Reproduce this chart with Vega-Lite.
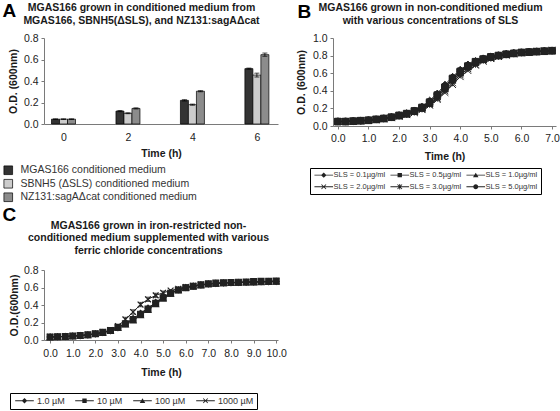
{
"$schema": "https://vega.github.io/schema/vega-lite/v6.json",
"padding": {"left": 2, "top": 1, "right": 0, "bottom": 0},
"autosize": {"type": "pad"},
"config": {
  "font": "Liberation Sans",
  "view": {"stroke": null},
  "axis": {"grid": false, "domainColor": "#7a7a7a", "tickColor": "#7a7a7a", "labelColor": "#222222", "labelFontSize": 10.5, "titleFontSize": 10.5, "titleFontWeight": "bold", "titleColor": "#1a1a1a", "tickSize": 3, "labelPadding": 3, "labelFont": "Liberation Sans", "titleFont": "Liberation Sans"},
  "legend": {"labelFont": "Liberation Sans", "labelFontSize": 9.5, "labelColor": "#333333", "labelLimit": 400}
},
"columns": 2,
"bounds": "flush",
"align": "each",
"spacing": {"row": 144, "column": 55},
"concat": [
{
  "width": 234, "height": 86,
  "data": {"values": [
    {"t":0,"m":"MGAS166 conditioned medium","v":0.045,"lo":0.042,"hi":0.048},
    {"t":0,"m":"SBNH5 (ΔSLS) conditioned medium","v":0.045,"lo":0.042,"hi":0.048},
    {"t":0,"m":"NZ131:sagAΔcat conditioned medium","v":0.045,"lo":0.042,"hi":0.048},
    {"t":2,"m":"MGAS166 conditioned medium","v":0.12,"lo":0.115,"hi":0.125},
    {"t":2,"m":"SBNH5 (ΔSLS) conditioned medium","v":0.1,"lo":0.096,"hi":0.104},
    {"t":2,"m":"NZ131:sagAΔcat conditioned medium","v":0.145,"lo":0.14,"hi":0.15},
    {"t":4,"m":"MGAS166 conditioned medium","v":0.22,"lo":0.214,"hi":0.226},
    {"t":4,"m":"SBNH5 (ΔSLS) conditioned medium","v":0.18,"lo":0.175,"hi":0.185},
    {"t":4,"m":"NZ131:sagAΔcat conditioned medium","v":0.305,"lo":0.3,"hi":0.31},
    {"t":6,"m":"MGAS166 conditioned medium","v":0.515,"lo":0.51,"hi":0.52},
    {"t":6,"m":"SBNH5 (ΔSLS) conditioned medium","v":0.455,"lo":0.437,"hi":0.473},
    {"t":6,"m":"NZ131:sagAΔcat conditioned medium","v":0.645,"lo":0.63,"hi":0.66}
  ]},
  "encoding": {
    "x": {"field":"t","type":"quantitative","scale":{"domain":[-0.45,6.5]},"axis":null},
    "y": {"field":"v","type":"quantitative","scale":{"domain":[0,0.8]},"stack":null,"title":"O.D. (600nm)","axis":{"values":[0,0.2,0.4,0.6,0.8],"format":".1f","titlePadding":5}}
  },
  "layer": [
    {"transform":[{"filter":"datum.m === 'MGAS166 conditioned medium'"}],
     "mark":{"type":"bar","orient":"vertical","width":8,"xOffset":-8,"stroke":"#000","strokeWidth":0.7},
     "encoding":{
       "x":{"field":"t","type":"quantitative","scale":{"domain":[-0.45,6.5]},"axis":{"values":[0,2,4,6],"format":"d","ticks":false,"labelPadding":8,"title":"Time (h)","titlePadding":6}},
       "color":{"field":"m","type":"nominal","scale":{"domain":["MGAS166 conditioned medium","SBNH5 (ΔSLS) conditioned medium","NZ131:sagAΔcat conditioned medium"],"range":["#333333","#cccccc","#8c8c8c"]},"legend":{"orient":"none","legendX":-41,"legendY":127,"title":null,"symbolType":"square","symbolSize":75,"symbolStrokeColor":"#000","symbolStrokeWidth":0.7,"labelFontSize":10.5,"labelColor":"#333333","rowPadding":1.5,"labelOffset":7}}}},
    {"transform":[{"filter":"datum.m === 'SBNH5 (ΔSLS) conditioned medium'"}],
     "mark":{"type":"bar","orient":"vertical","width":8,"xOffset":0,"stroke":"#000","strokeWidth":0.7},
     "encoding":{
       "x":{"field":"t","type":"quantitative","scale":{"domain":[-0.45,6.5]},"axis":{"orient":"top","domain":false,"ticks":false,"labels":false,"title":["MGAS166 grown in conditioned medium from","MGAS166, SBNH5(ΔSLS), and NZ131:sagAΔcat"],"titleX":97,"titleY":-36,"titleAlign":"center","titleBaseline":"top","titleAngle":0,"titleLineHeight":13.5}},
       "color":{"field":"m","type":"nominal","scale":{"domain":["MGAS166 conditioned medium","SBNH5 (ΔSLS) conditioned medium","NZ131:sagAΔcat conditioned medium"],"range":["#333333","#cccccc","#8c8c8c"]},"legend":{"orient":"none","legendX":-41,"legendY":127,"title":null,"symbolType":"square","symbolSize":75,"symbolStrokeColor":"#000","symbolStrokeWidth":0.7,"labelFontSize":10.5,"labelColor":"#333333","rowPadding":1.5,"labelOffset":7}}}},
    {"transform":[{"filter":"datum.m === 'NZ131:sagAΔcat conditioned medium'"}],
     "mark":{"type":"bar","orient":"vertical","width":8,"xOffset":8,"stroke":"#000","strokeWidth":0.7},
     "encoding":{
       "x":{"field":"t","type":"quantitative","scale":{"domain":[-0.45,6.5]},"axis":{"orient":"top","domain":false,"ticks":false,"labels":false,"title":"A","titleX":-42,"titleY":-37,"titleAlign":"left","titleBaseline":"top","titleAngle":0,"titleFontSize":19,"titleColor":"#000000"}},
       "color":{"field":"m","type":"nominal","scale":{"domain":["MGAS166 conditioned medium","SBNH5 (ΔSLS) conditioned medium","NZ131:sagAΔcat conditioned medium"],"range":["#333333","#cccccc","#8c8c8c"]},"legend":{"orient":"none","legendX":-41,"legendY":127,"title":null,"symbolType":"square","symbolSize":75,"symbolStrokeColor":"#000","symbolStrokeWidth":0.7,"labelFontSize":10.5,"labelColor":"#333333","rowPadding":1.5,"labelOffset":7}}}},
    {"transform":[{"filter":"datum.m === 'MGAS166 conditioned medium'"}],
     "mark":{"type":"rule","xOffset":-8,"color":"#000","strokeWidth":0.8},
     "encoding":{"y":{"field":"lo","type":"quantitative","scale":{"domain":[0,0.8]},"title":"O.D. (600nm)","axis":{"values":[0,0.2,0.4,0.6,0.8],"format":".1f","titlePadding":5}},"y2":{"field":"hi"}}},
    {"transform":[{"filter":"datum.m === 'SBNH5 (ΔSLS) conditioned medium'"}],
     "mark":{"type":"rule","xOffset":0,"color":"#000","strokeWidth":0.8},
     "encoding":{"y":{"field":"lo","type":"quantitative","scale":{"domain":[0,0.8]},"title":"O.D. (600nm)","axis":{"values":[0,0.2,0.4,0.6,0.8],"format":".1f","titlePadding":5}},"y2":{"field":"hi"}}},
    {"transform":[{"filter":"datum.m === 'NZ131:sagAΔcat conditioned medium'"}],
     "mark":{"type":"rule","xOffset":8,"color":"#000","strokeWidth":0.8},
     "encoding":{"y":{"field":"lo","type":"quantitative","scale":{"domain":[0,0.8]},"title":"O.D. (600nm)","axis":{"values":[0,0.2,0.4,0.6,0.8],"format":".1f","titlePadding":5}},"y2":{"field":"hi"}}},
    {"transform":[{"filter":"datum.m === 'MGAS166 conditioned medium'"}],
     "mark":{"type":"tick","orient":"horizontal","xOffset":-8,"size":5,"thickness":1,"color":"#000"},
     "encoding":{"y":{"field":"hi","type":"quantitative","scale":{"domain":[0,0.8]},"title":"O.D. (600nm)","axis":{"values":[0,0.2,0.4,0.6,0.8],"format":".1f","titlePadding":5}}}},
    {"transform":[{"filter":"datum.m === 'MGAS166 conditioned medium'"}],
     "mark":{"type":"tick","orient":"horizontal","xOffset":-8,"size":5,"thickness":1,"color":"#000"},
     "encoding":{"y":{"field":"lo","type":"quantitative","scale":{"domain":[0,0.8]},"title":"O.D. (600nm)","axis":{"values":[0,0.2,0.4,0.6,0.8],"format":".1f","titlePadding":5}}}},
    {"transform":[{"filter":"datum.m === 'SBNH5 (ΔSLS) conditioned medium'"}],
     "mark":{"type":"tick","orient":"horizontal","xOffset":0,"size":5,"thickness":1,"color":"#000"},
     "encoding":{"y":{"field":"hi","type":"quantitative","scale":{"domain":[0,0.8]},"title":"O.D. (600nm)","axis":{"values":[0,0.2,0.4,0.6,0.8],"format":".1f","titlePadding":5}}}},
    {"transform":[{"filter":"datum.m === 'SBNH5 (ΔSLS) conditioned medium'"}],
     "mark":{"type":"tick","orient":"horizontal","xOffset":0,"size":5,"thickness":1,"color":"#000"},
     "encoding":{"y":{"field":"lo","type":"quantitative","scale":{"domain":[0,0.8]},"title":"O.D. (600nm)","axis":{"values":[0,0.2,0.4,0.6,0.8],"format":".1f","titlePadding":5}}}},
    {"transform":[{"filter":"datum.m === 'NZ131:sagAΔcat conditioned medium'"}],
     "mark":{"type":"tick","orient":"horizontal","xOffset":8,"size":5,"thickness":1,"color":"#000"},
     "encoding":{"y":{"field":"hi","type":"quantitative","scale":{"domain":[0,0.8]},"title":"O.D. (600nm)","axis":{"values":[0,0.2,0.4,0.6,0.8],"format":".1f","titlePadding":5}}}},
    {"transform":[{"filter":"datum.m === 'NZ131:sagAΔcat conditioned medium'"}],
     "mark":{"type":"tick","orient":"horizontal","xOffset":8,"size":5,"thickness":1,"color":"#000"},
     "encoding":{"y":{"field":"lo","type":"quantitative","scale":{"domain":[0,0.8]},"title":"O.D. (600nm)","axis":{"values":[0,0.2,0.4,0.6,0.8],"format":".1f","titlePadding":5}}}}
  ],
  "resolve": {"axis": {"x": "independent"}}
},
{
  "width": 223, "height": 88,
  "data": {"values": [
{"t":0,"s":"0.1","v":0.05},{"t":0.25,"s":"0.1","v":0.05},{"t":0.5,"s":"0.1","v":0.055},{"t":0.75,"s":"0.1","v":0.06},{"t":1,"s":"0.1","v":0.065},{"t":1.25,"s":"0.1","v":0.075},{"t":1.5,"s":"0.1","v":0.087},{"t":1.75,"s":"0.1","v":0.103},{"t":2,"s":"0.1","v":0.124},{"t":2.25,"s":"0.1","v":0.146},{"t":2.5,"s":"0.1","v":0.178},{"t":2.75,"s":"0.1","v":0.22},{"t":3,"s":"0.1","v":0.29},{"t":3.25,"s":"0.1","v":0.37},{"t":3.5,"s":"0.1","v":0.47},{"t":3.75,"s":"0.1","v":0.56},{"t":4,"s":"0.1","v":0.64},{"t":4.25,"s":"0.1","v":0.7},{"t":4.5,"s":"0.1","v":0.74},{"t":4.75,"s":"0.1","v":0.77},{"t":5,"s":"0.1","v":0.79},{"t":5.25,"s":"0.1","v":0.805},{"t":5.5,"s":"0.1","v":0.82},{"t":5.75,"s":"0.1","v":0.83},{"t":6,"s":"0.1","v":0.838},{"t":6.25,"s":"0.1","v":0.843},{"t":6.5,"s":"0.1","v":0.848},{"t":6.75,"s":"0.1","v":0.852},{"t":7,"s":"0.1","v":0.856},
{"t":0,"s":"0.5","v":0.05},{"t":0.25,"s":"0.5","v":0.05},{"t":0.5,"s":"0.5","v":0.055},{"t":0.75,"s":"0.5","v":0.06},{"t":1,"s":"0.5","v":0.065},{"t":1.25,"s":"0.5","v":0.075},{"t":1.5,"s":"0.5","v":0.085},{"t":1.75,"s":"0.5","v":0.1},{"t":2,"s":"0.5","v":0.12},{"t":2.25,"s":"0.5","v":0.14},{"t":2.5,"s":"0.5","v":0.17},{"t":2.75,"s":"0.5","v":0.21},{"t":3,"s":"0.5","v":0.27},{"t":3.25,"s":"0.5","v":0.35},{"t":3.5,"s":"0.5","v":0.44},{"t":3.75,"s":"0.5","v":0.54},{"t":4,"s":"0.5","v":0.62},{"t":4.25,"s":"0.5","v":0.68},{"t":4.5,"s":"0.5","v":0.73},{"t":4.75,"s":"0.5","v":0.76},{"t":5,"s":"0.5","v":0.785},{"t":5.25,"s":"0.5","v":0.8},{"t":5.5,"s":"0.5","v":0.815},{"t":5.75,"s":"0.5","v":0.825},{"t":6,"s":"0.5","v":0.835},{"t":6.25,"s":"0.5","v":0.84},{"t":6.5,"s":"0.5","v":0.845},{"t":6.75,"s":"0.5","v":0.85},{"t":7,"s":"0.5","v":0.855},
{"t":0,"s":"1.0","v":0.052},{"t":0.25,"s":"1.0","v":0.052},{"t":0.5,"s":"1.0","v":0.056},{"t":0.75,"s":"1.0","v":0.06},{"t":1,"s":"1.0","v":0.066},{"t":1.25,"s":"1.0","v":0.074},{"t":1.5,"s":"1.0","v":0.085},{"t":1.75,"s":"1.0","v":0.098},{"t":2,"s":"1.0","v":0.116},{"t":2.25,"s":"1.0","v":0.136},{"t":2.5,"s":"1.0","v":0.163},{"t":2.75,"s":"1.0","v":0.2},{"t":3,"s":"1.0","v":0.255},{"t":3.25,"s":"1.0","v":0.33},{"t":3.5,"s":"1.0","v":0.42},{"t":3.75,"s":"1.0","v":0.52},{"t":4,"s":"1.0","v":0.6},{"t":4.25,"s":"1.0","v":0.67},{"t":4.5,"s":"1.0","v":0.72},{"t":4.75,"s":"1.0","v":0.755},{"t":5,"s":"1.0","v":0.78},{"t":5.25,"s":"1.0","v":0.8},{"t":5.5,"s":"1.0","v":0.812},{"t":5.75,"s":"1.0","v":0.824},{"t":6,"s":"1.0","v":0.834},{"t":6.25,"s":"1.0","v":0.84},{"t":6.5,"s":"1.0","v":0.846},{"t":6.75,"s":"1.0","v":0.85},{"t":7,"s":"1.0","v":0.856},
{"t":0,"s":"2.0","v":0.05},{"t":0.25,"s":"2.0","v":0.05},{"t":0.5,"s":"2.0","v":0.054},{"t":0.75,"s":"2.0","v":0.058},{"t":1,"s":"2.0","v":0.063},{"t":1.25,"s":"2.0","v":0.071},{"t":1.5,"s":"2.0","v":0.08},{"t":1.75,"s":"2.0","v":0.093},{"t":2,"s":"2.0","v":0.11},{"t":2.25,"s":"2.0","v":0.128},{"t":2.5,"s":"2.0","v":0.152},{"t":2.75,"s":"2.0","v":0.185},{"t":3,"s":"2.0","v":0.235},{"t":3.25,"s":"2.0","v":0.3},{"t":3.5,"s":"2.0","v":0.38},{"t":3.75,"s":"2.0","v":0.47},{"t":4,"s":"2.0","v":0.56},{"t":4.25,"s":"2.0","v":0.63},{"t":4.5,"s":"2.0","v":0.69},{"t":4.75,"s":"2.0","v":0.735},{"t":5,"s":"2.0","v":0.765},{"t":5.25,"s":"2.0","v":0.79},{"t":5.5,"s":"2.0","v":0.805},{"t":5.75,"s":"2.0","v":0.82},{"t":6,"s":"2.0","v":0.83},{"t":6.25,"s":"2.0","v":0.838},{"t":6.5,"s":"2.0","v":0.845},{"t":6.75,"s":"2.0","v":0.85},{"t":7,"s":"2.0","v":0.86},
{"t":0,"s":"3.0","v":0.05},{"t":0.25,"s":"3.0","v":0.051},{"t":0.5,"s":"3.0","v":0.055},{"t":0.75,"s":"3.0","v":0.059},{"t":1,"s":"3.0","v":0.064},{"t":1.25,"s":"3.0","v":0.072},{"t":1.5,"s":"3.0","v":0.082},{"t":1.75,"s":"3.0","v":0.095},{"t":2,"s":"3.0","v":0.113},{"t":2.25,"s":"3.0","v":0.132},{"t":2.5,"s":"3.0","v":0.158},{"t":2.75,"s":"3.0","v":0.193},{"t":3,"s":"3.0","v":0.245},{"t":3.25,"s":"3.0","v":0.315},{"t":3.5,"s":"3.0","v":0.4},{"t":3.75,"s":"3.0","v":0.49},{"t":4,"s":"3.0","v":0.58},{"t":4.25,"s":"3.0","v":0.65},{"t":4.5,"s":"3.0","v":0.7},{"t":4.75,"s":"3.0","v":0.745},{"t":5,"s":"3.0","v":0.77},{"t":5.25,"s":"3.0","v":0.792},{"t":5.5,"s":"3.0","v":0.808},{"t":5.75,"s":"3.0","v":0.82},{"t":6,"s":"3.0","v":0.832},{"t":6.25,"s":"3.0","v":0.84},{"t":6.5,"s":"3.0","v":0.846},{"t":6.75,"s":"3.0","v":0.852},{"t":7,"s":"3.0","v":0.858},
{"t":0,"s":"5.0","v":0.053},{"t":0.25,"s":"5.0","v":0.053},{"t":0.5,"s":"5.0","v":0.057},{"t":0.75,"s":"5.0","v":0.061},{"t":1,"s":"5.0","v":0.067},{"t":1.25,"s":"5.0","v":0.076},{"t":1.5,"s":"5.0","v":0.087},{"t":1.75,"s":"5.0","v":0.1},{"t":2,"s":"5.0","v":0.12},{"t":2.25,"s":"5.0","v":0.142},{"t":2.5,"s":"5.0","v":0.172},{"t":2.75,"s":"5.0","v":0.213},{"t":3,"s":"5.0","v":0.275},{"t":3.25,"s":"5.0","v":0.355},{"t":3.5,"s":"5.0","v":0.45},{"t":3.75,"s":"5.0","v":0.545},{"t":4,"s":"5.0","v":0.625},{"t":4.25,"s":"5.0","v":0.685},{"t":4.5,"s":"5.0","v":0.732},{"t":4.75,"s":"5.0","v":0.762},{"t":5,"s":"5.0","v":0.787},{"t":5.25,"s":"5.0","v":0.802},{"t":5.5,"s":"5.0","v":0.816},{"t":5.75,"s":"5.0","v":0.827},{"t":6,"s":"5.0","v":0.836},{"t":6.25,"s":"5.0","v":0.842},{"t":6.5,"s":"5.0","v":0.847},{"t":6.75,"s":"5.0","v":0.852},{"t":7,"s":"5.0","v":0.857}
  ]},
  "encoding": {
    "x": {"field":"t","type":"quantitative","scale":{"domain":[-0.16,7.13]},"axis":null},
    "y": {"field":"v","type":"quantitative","scale":{"domain":[0,1]},"title":"O.D. (600nm)","axis":{"values":[0,0.2,0.4,0.6,0.8,1],"format":".1f","titlePadding":6}}
  },
  "layer": [
    {"mark":{"type":"line","color":"#222222","strokeWidth":1},
     "encoding":{"detail":{"field":"s","type":"nominal"},
       "x":{"field":"t","type":"quantitative","scale":{"domain":[-0.16,7.13]},"axis":{"values":[0,1,2,3,4,5,6,7],"format":".1f","labelPadding":4,"title":"Time (h)","titlePadding":8}}}},
    {"mark":{"type":"point","filled":true,"fill":"#222222","stroke":"#222222","strokeWidth":1,"size":45,"opacity":1},
     "encoding":{
       "shape":{"field":"s","type":"nominal","scale":{"domain":["0.1","0.5","1.0","2.0","3.0","5.0"],"range":["diamond","square","triangle-up","M-1,-1L1,1M-1,1L1,-1","M-1,-1L1,1M-1,1L1,-1M0,-1V1","circle"]},"legend":null},
       "x":{"field":"t","type":"quantitative","scale":{"domain":[-0.16,7.13]},"axis":{"orient":"top","domain":false,"ticks":false,"labels":false,"title":["MGAS166 grown in non-conditioned medium","with various concentrations of SLS"],"titleX":97,"titleY":-36,"titleAlign":"center","titleBaseline":"top","titleAngle":0,"titleLineHeight":13.5}}}},
    {"transform":[{"filter":"false"}],
     "mark":{"type":"point","filled":true,"fill":"#222222","stroke":"#222222","strokeWidth":1,"size":30,"opacity":1},
     "encoding":{
       "shape":{"field":"s","type":"nominal","scale":{"domain":["0.1","0.5","1.0","2.0","3.0","5.0"],"range":[
         "M-3.4,-0.17H3.4V0.17H-3.4ZM0,-1L1,0L0,1L-1,0Z",
         "M-3.4,-0.17H3.4V0.17H-3.4ZM-0.8,-0.8H0.8V0.8H-0.8Z",
         "M-3.4,-0.17H3.4V0.17H-3.4ZM0,-0.9L1,0.8H-1Z",
         "M-3.4,-0.17H3.4V0.17H-3.4ZM-0.95,-0.72L-0.72,-0.95L0.95,0.72L0.72,0.95ZM0.72,-0.95L0.95,-0.72L-0.72,0.95L-0.95,0.72Z",
         "M-3.4,-0.17H3.4V0.17H-3.4ZM-0.95,-0.72L-0.72,-0.95L0.95,0.72L0.72,0.95ZM0.72,-0.95L0.95,-0.72L-0.72,0.95L-0.95,0.72ZM-0.17,-1H0.17V1H-0.17Z",
         "M-3.4,-0.17H3.4V0.17H-3.4ZM0.9,0A0.9,0.9,0,1,1,-0.9,0A0.9,0.9,0,1,1,0.9,0Z"]},
         "legend":{"orient":"none","legendX":-23,"legendY":130,"title":null,"columns":3,"direction":"horizontal","strokeColor":"#000000","padding":3,"columnPadding":3,"rowPadding":3,"symbolSize":30,"symbolOffset":7,"labelOffset":6,"labelFontSize":7.5,"labelColor":"#333333","symbolFillColor":"#222222","symbolStrokeColor":"#222222","symbolStrokeWidth":0,"symbolOpacity":1,"labelExpr":"'SLS = ' + datum.label + 'µg/ml'"}},
       "x":{"field":"t","type":"quantitative","scale":{"domain":[-0.16,7.13]},"axis":{"orient":"top","domain":false,"ticks":false,"labels":false,"title":"B","titleX":-36,"titleY":-36,"titleAlign":"left","titleBaseline":"top","titleAngle":0,"titleFontSize":19,"titleColor":"#000000"}}}}
  ],
  "resolve": {"axis": {"x": "independent"}, "scale": {"shape": "independent"}}
},
{
  "width": 234, "height": 70,
  "data": {"values": [
{"t":0,"s":"1.0","v":0.035},{"t":0.33,"s":"1.0","v":0.037},{"t":0.67,"s":"1.0","v":0.04},{"t":1,"s":"1.0","v":0.045},{"t":1.33,"s":"1.0","v":0.05},{"t":1.67,"s":"1.0","v":0.058},{"t":2,"s":"1.0","v":0.07},{"t":2.33,"s":"1.0","v":0.085},{"t":2.67,"s":"1.0","v":0.105},{"t":3,"s":"1.0","v":0.14},{"t":3.33,"s":"1.0","v":0.19},{"t":3.67,"s":"1.0","v":0.245},{"t":4,"s":"1.0","v":0.305},{"t":4.33,"s":"1.0","v":0.365},{"t":4.67,"s":"1.0","v":0.43},{"t":5,"s":"1.0","v":0.49},{"t":5.33,"s":"1.0","v":0.54},{"t":5.67,"s":"1.0","v":0.575},{"t":6,"s":"1.0","v":0.6},{"t":6.33,"s":"1.0","v":0.617},{"t":6.67,"s":"1.0","v":0.63},{"t":7,"s":"1.0","v":0.64},{"t":7.33,"s":"1.0","v":0.647},{"t":7.67,"s":"1.0","v":0.652},{"t":8,"s":"1.0","v":0.655},{"t":8.33,"s":"1.0","v":0.658},{"t":8.67,"s":"1.0","v":0.66},{"t":9,"s":"1.0","v":0.662},{"t":9.33,"s":"1.0","v":0.665},{"t":9.67,"s":"1.0","v":0.667},{"t":10,"s":"1.0","v":0.67},
{"t":0,"s":"10","v":0.035},{"t":0.33,"s":"10","v":0.038},{"t":0.67,"s":"10","v":0.041},{"t":1,"s":"10","v":0.046},{"t":1.33,"s":"10","v":0.051},{"t":1.67,"s":"10","v":0.06},{"t":2,"s":"10","v":0.072},{"t":2.33,"s":"10","v":0.087},{"t":2.67,"s":"10","v":0.108},{"t":3,"s":"10","v":0.145},{"t":3.33,"s":"10","v":0.185},{"t":3.67,"s":"10","v":0.235},{"t":4,"s":"10","v":0.295},{"t":4.33,"s":"10","v":0.355},{"t":4.67,"s":"10","v":0.42},{"t":5,"s":"10","v":0.48},{"t":5.33,"s":"10","v":0.535},{"t":5.67,"s":"10","v":0.572},{"t":6,"s":"10","v":0.598},{"t":6.33,"s":"10","v":0.615},{"t":6.67,"s":"10","v":0.63},{"t":7,"s":"10","v":0.642},{"t":7.33,"s":"10","v":0.65},{"t":7.67,"s":"10","v":0.655},{"t":8,"s":"10","v":0.658},{"t":8.33,"s":"10","v":0.661},{"t":8.67,"s":"10","v":0.664},{"t":9,"s":"10","v":0.667},{"t":9.33,"s":"10","v":0.67},{"t":9.67,"s":"10","v":0.672},{"t":10,"s":"10","v":0.675},
{"t":0,"s":"100","v":0.034},{"t":0.33,"s":"100","v":0.036},{"t":0.67,"s":"100","v":0.039},{"t":1,"s":"100","v":0.044},{"t":1.33,"s":"100","v":0.049},{"t":1.67,"s":"100","v":0.057},{"t":2,"s":"100","v":0.069},{"t":2.33,"s":"100","v":0.084},{"t":2.67,"s":"100","v":0.104},{"t":3,"s":"100","v":0.138},{"t":3.33,"s":"100","v":0.18},{"t":3.67,"s":"100","v":0.225},{"t":4,"s":"100","v":0.285},{"t":4.33,"s":"100","v":0.345},{"t":4.67,"s":"100","v":0.41},{"t":5,"s":"100","v":0.475},{"t":5.33,"s":"100","v":0.53},{"t":5.67,"s":"100","v":0.57},{"t":6,"s":"100","v":0.597},{"t":6.33,"s":"100","v":0.613},{"t":6.67,"s":"100","v":0.627},{"t":7,"s":"100","v":0.638},{"t":7.33,"s":"100","v":0.645},{"t":7.67,"s":"100","v":0.65},{"t":8,"s":"100","v":0.653},{"t":8.33,"s":"100","v":0.656},{"t":8.67,"s":"100","v":0.658},{"t":9,"s":"100","v":0.66},{"t":9.33,"s":"100","v":0.662},{"t":9.67,"s":"100","v":0.664},{"t":10,"s":"100","v":0.666},
{"t":0,"s":"1000","v":0.036},{"t":0.33,"s":"1000","v":0.038},{"t":0.67,"s":"1000","v":0.041},{"t":1,"s":"1000","v":0.046},{"t":1.33,"s":"1000","v":0.052},{"t":1.67,"s":"1000","v":0.06},{"t":2,"s":"1000","v":0.073},{"t":2.33,"s":"1000","v":0.09},{"t":2.67,"s":"1000","v":0.113},{"t":3,"s":"1000","v":0.16},{"t":3.33,"s":"1000","v":0.235},{"t":3.67,"s":"1000","v":0.32},{"t":4,"s":"1000","v":0.405},{"t":4.33,"s":"1000","v":0.465},{"t":4.67,"s":"1000","v":0.51},{"t":5,"s":"1000","v":0.54},{"t":5.33,"s":"1000","v":0.565},{"t":5.67,"s":"1000","v":0.585},{"t":6,"s":"1000","v":0.605},{"t":6.33,"s":"1000","v":0.62},{"t":6.67,"s":"1000","v":0.632},{"t":7,"s":"1000","v":0.642},{"t":7.33,"s":"1000","v":0.648},{"t":7.67,"s":"1000","v":0.653},{"t":8,"s":"1000","v":0.656},{"t":8.33,"s":"1000","v":0.659},{"t":8.67,"s":"1000","v":0.662},{"t":9,"s":"1000","v":0.665},{"t":9.33,"s":"1000","v":0.668},{"t":9.67,"s":"1000","v":0.67},{"t":10,"s":"1000","v":0.672}
  ]},
  "encoding": {
    "x": {"field":"t","type":"quantitative","scale":{"domain":[-0.27,10.08]},"axis":null},
    "y": {"field":"v","type":"quantitative","scale":{"domain":[0,0.8]},"title":"O.D.(600nm)","axis":{"values":[0,0.2,0.4,0.6,0.8],"format":".1f","titlePadding":4}}
  },
  "layer": [
    {"mark":{"type":"line","color":"#222222","strokeWidth":1},
     "encoding":{"detail":{"field":"s","type":"nominal"},
       "x":{"field":"t","type":"quantitative","scale":{"domain":[-0.27,10.08]},"axis":{"values":[0,1,2,3,4,5,6,7,8,9,10],"format":".1f","labelPadding":5,"title":"Time (h)","titlePadding":9}}}},
    {"mark":{"type":"point","filled":true,"fill":"#222222","stroke":"#222222","strokeWidth":1.2,"size":34,"opacity":1},
     "encoding":{
       "shape":{"field":"s","type":"nominal","scale":{"domain":["1.0","10","100","1000"],"range":["diamond","square","triangle-up","M-1,-1L1,1M-1,1L1,-1"]},"legend":null},
       "x":{"field":"t","type":"quantitative","scale":{"domain":[-0.27,10.08]},"axis":{"orient":"top","domain":false,"ticks":false,"labels":false,"title":["MGAS166 grown in iron-restricted non-","conditioned medium supplemented with various","ferric chloride concentrations"],"titleX":104,"titleY":-50,"titleAlign":"center","titleBaseline":"top","titleAngle":0,"titleLineHeight":12.5}}}},
    {"data":{"values":[{"t":3.33,"lo":0.21,"hi":0.26},{"t":3.67,"lo":0.295,"hi":0.345},{"t":4,"lo":0.38,"hi":0.43},{"t":4.33,"lo":0.44,"hi":0.49},{"t":4.67,"lo":0.485,"hi":0.535},{"t":5,"lo":0.52,"hi":0.56}]},
     "mark":{"type":"errorbar","color":"#222222","ticks":{"size":5}},
     "encoding":{"y":{"field":"lo","type":"quantitative","scale":{"domain":[0,0.8]},"title":"O.D.(600nm)","axis":{"values":[0,0.2,0.4,0.6,0.8],"format":".1f","titlePadding":4}},"y2":{"field":"hi"}}},
    {"transform":[{"filter":"false"}],
     "mark":{"type":"point","filled":true,"fill":"#222222","stroke":"#222222","strokeWidth":1,"size":30,"opacity":1},
     "encoding":{
       "shape":{"field":"s","type":"nominal","scale":{"domain":["1.0","10","100","1000"],"range":[
         "M-3.4,-0.17H3.4V0.17H-3.4ZM0,-1L1,0L0,1L-1,0Z",
         "M-3.4,-0.17H3.4V0.17H-3.4ZM-0.8,-0.8H0.8V0.8H-0.8Z",
         "M-3.4,-0.17H3.4V0.17H-3.4ZM0,-0.9L1,0.8H-1Z",
         "M-3.4,-0.17H3.4V0.17H-3.4ZM-0.95,-0.72L-0.72,-0.95L0.95,0.72L0.72,0.95ZM0.72,-0.95L0.95,-0.72L-0.72,0.95L-0.95,0.72Z"]},
         "legend":{"orient":"none","legendX":-34,"legendY":123,"title":null,"columns":4,"direction":"horizontal","strokeColor":"#000000","padding":3,"columnPadding":8,"symbolSize":30,"symbolOffset":7,"labelOffset":8,"labelFontSize":9,"labelColor":"#333333","symbolFillColor":"#222222","symbolStrokeColor":"#222222","symbolStrokeWidth":0,"symbolOpacity":1,"labelExpr":"datum.label + ' µM'"}},
       "x":{"field":"t","type":"quantitative","scale":{"domain":[-0.27,10.08]},"axis":{"orient":"top","domain":false,"ticks":false,"labels":false,"title":"C","titleX":-42,"titleY":-65,"titleAlign":"left","titleBaseline":"top","titleAngle":0,"titleFontSize":19,"titleColor":"#000000"}}}}
  ],
  "resolve": {"axis": {"x": "independent"}, "scale": {"shape": "independent"}}
}
]
}
